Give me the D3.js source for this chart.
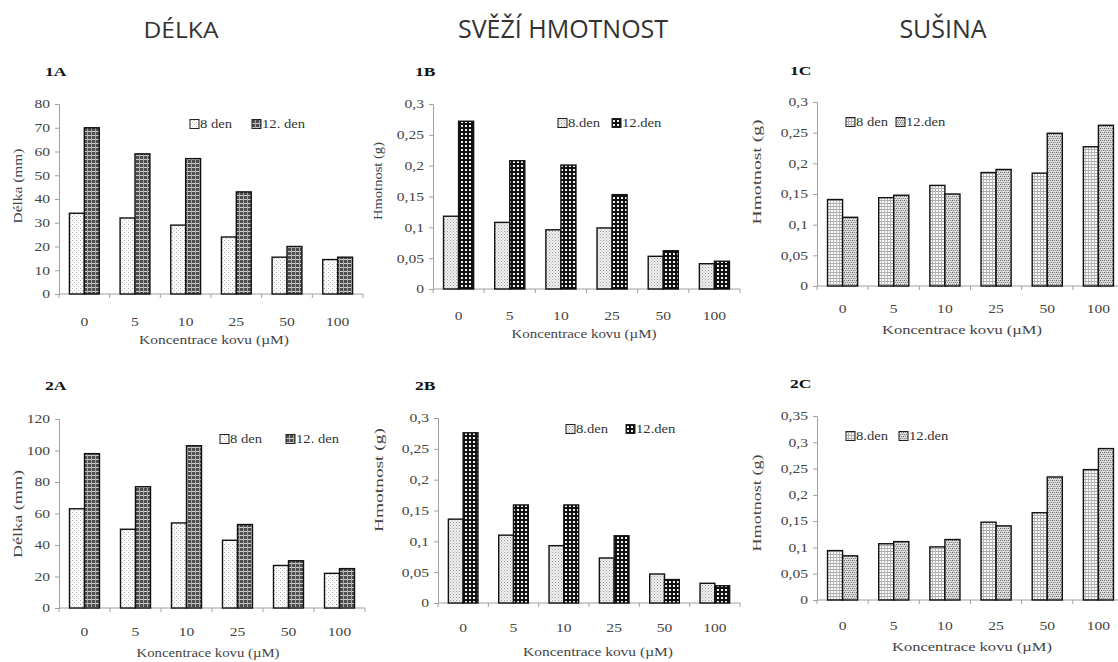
<!DOCTYPE html>
<html>
<head>
<meta charset="utf-8">
<script src="https://cdn.jsdelivr.net/npm/d3@7"></script>
<style>
  body { margin: 0; background: #fff; }
  svg { display: block; }
</style>
</head>
<body>
<div id="paper"></div>
<script>
// data

const categories = ["0", "5", "10", "25", "50", "100"]
const seriesNames = ["8 den", "12. den"]

const delka1_8 = [34, 32, 29, 24, 15.5, 14.5]
const delka1_12 = [70, 59, 57, 43, 20, 15.5]
const svezi1_8 = [0.118, 0.108, 0.096, 0.099, 0.053, 0.041]
const svezi1_12 = [0.272, 0.208, 0.201, 0.153, 0.062, 0.045]
const susina1_8 = [0.141, 0.144, 0.164, 0.185, 0.184, 0.227]
const susina1_12 = [0.112, 0.148, 0.150, 0.190, 0.249, 0.262]

const delka2_8 = [63, 50, 54, 43, 27, 22]
const delka2_12 = [98, 77, 103, 53, 30, 25]
const svezi2_8 = [0.136, 0.110, 0.093, 0.073, 0.047, 0.032]
const svezi2_12 = [0.276, 0.159, 0.159, 0.109, 0.038, 0.028]
const susina2_8 = [0.094, 0.107, 0.101, 0.148, 0.166, 0.248]
const susina2_12 = [0.084, 0.111, 0.115, 0.141, 0.234, 0.288]

const headers = ["DÉLKA", "SVĚŽÍ HMOTNOST", "SUŠINA"]

// svg

const svg = d3.select("#paper")
    .append("svg")
    .attr("id", "canvas")
    .attr("width", 1118)
    .attr("height", 662)

// patterns

const defs = svg.append("defs")

function pattern(id, size, bg, draw) {
    const p = defs.append("pattern")
        .attr("id", id)
        .attr("width", size)
        .attr("height", size)
        .attr("patternUnits", "userSpaceOnUse")
    p.append("rect").attr("width", size).attr("height", size).attr("fill", bg)
    draw(p)
}

function dot(p, x, y, c) {
    p.append("rect").attr("x", x).attr("y", y).attr("width", 1).attr("height", 1).attr("fill", c)
}

// light stipple
pattern("dotsLight", 4, "#fafafa", p => {
    dot(p, 0, 0, "#b0b0b0")
    dot(p, 2, 2, "#c4c4c4")
})
// denser stipple
pattern("dotsMed", 3, "#f2f2f2", p => {
    dot(p, 0, 0, "#999")
    dot(p, 1.5, 1.5, "#aaa")
})
// dark grid
pattern("gridDark", 4, "#4d4d4d", p => {
    p.append("rect").attr("x", 0).attr("y", 3).attr("width", 4).attr("height", 1).attr("fill", "#cfcfcf")
    p.append("rect").attr("x", 3).attr("y", 0).attr("width", 1).attr("height", 4).attr("fill", "#a8a8a8")
})
// black with white holes
pattern("gridBlack", 4, "#111", p => {
    p.append("rect").attr("x", 1).attr("y", 1).attr("width", 2).attr("height", 2).attr("fill", "#f2f2f2")
})
// light grid
pattern("gridLight", 3, "#fbfbfb", p => {
    p.append("rect").attr("x", 0).attr("y", 2).attr("width", 3).attr("height", 1).attr("fill", "#a8a8a8")
    p.append("rect").attr("x", 2).attr("y", 0).attr("width", 1).attr("height", 3).attr("fill", "#b8b8b8")
})
// gray checker
pattern("checkGray", 4, "#d4d4d4", p => {
    dot(p, 0, 0, "#666")
    dot(p, 2, 0, "#888")
    dot(p, 1, 2, "#777")
    dot(p, 3, 2, "#888")
    dot(p, 1, 1, "#f6f6f6")
    dot(p, 3, 3, "#f6f6f6")
})

// stretched text helper

const serif = "Liberation Serif"
const SX = 1.3

function place(sel, x, y, sx) {
    return sel.attr("transform", `translate(${x},${y}) scale(${sx},1)`)
}

// headers

const headerX = [181, 563, 943]
const headerSize = [22, 25, 25]
const headerSX = [1.12, 1.0, 1.0]
svg.selectAll("text.header")
    .data(headers)
    .join("text")
    .attr("class", "header")
    .attr("text-anchor", "middle")
    .attr("font-family", "Open Sans")
    .attr("font-size", (d, i) => headerSize[i] + "px")
    .style("fill", "#333")
    .attr("transform", (d, i) => `translate(${headerX[i]},38) scale(${headerSX[i]},1)`)
    .text(d => d)

// panels layout

const panels = [
    {label: "1A", a: delka1_8, b: delka1_12, max: 80, step: 10, dec: 0, yTitle: "Délka (mm)",
     x0: 59, x1: 363, yTop: 104, yZero: 294, lblY: 326, titleY: 344, titleX: 214, titleLen: 150,
     yTitleX: 18, yTitleY: 186, yTitleLen: 75, legX: 190, legY: 124, legGap: 62,
     fills: ["dotsLight", "gridDark"], legText: ["8 den", "12. den"], lx: 45, ly: 76},
    {label: "1B", a: svezi1_8, b: svezi1_12, max: 0.3, step: 0.05, dec: 2, yTitle: "Hmotnost (g)",
     x0: 433, x1: 740, yTop: 104, yZero: 289, lblY: 320, titleY: 338, titleX: 584, titleLen: 145,
     yTitleX: 378, yTitleY: 181, yTitleLen: 78, legX: 558, legY: 123, legGap: 54,
     fills: ["dotsMed", "gridBlack"], legText: ["8.den", "12.den"], lx: 415, ly: 76},
    {label: "1C", a: susina1_8, b: susina1_12, max: 0.3, step: 0.05, dec: 2, yTitle: "Hmotnost (g)",
     x0: 817, x1: 1124, yTop: 102, yZero: 286, lblY: 313, titleY: 334, titleX: 962, titleLen: 160,
     yTitleX: 757, yTitleY: 172, yTitleLen: 105, legX: 846, legY: 122, legGap: 50,
     fills: ["gridLight", "checkGray"], legText: ["8 den", "12.den"], lx: 790, ly: 75},
    {label: "2A", a: delka2_8, b: delka2_12, max: 120, step: 20, dec: 0, yTitle: "Délka (mm)",
     x0: 59, x1: 365, yTop: 419, yZero: 608, lblY: 636, titleY: 657, titleX: 208, titleLen: 143,
     yTitleX: 18, yTitleY: 514, yTitleLen: 88, legX: 220, legY: 439, legGap: 66,
     fills: ["dotsLight", "gridDark"], legText: ["8 den", "12. den"], lx: 45, ly: 390},
    {label: "2B", a: svezi2_8, b: svezi2_12, max: 0.3, step: 0.05, dec: 2, yTitle: "Hmotnost (g)",
     x0: 438, x1: 740, yTop: 418, yZero: 603, lblY: 632, titleY: 656, titleX: 598, titleLen: 150,
     yTitleX: 379, yTitleY: 480, yTitleLen: 104, legX: 566, legY: 429, legGap: 60,
     fills: ["dotsMed", "gridBlack"], legText: ["8.den", "12.den"], lx: 415, ly: 390},
    {label: "2C", a: susina2_8, b: susina2_12, max: 0.35, step: 0.05, dec: 2, yTitle: "Hmotnost (g)",
     x0: 817, x1: 1124, yTop: 416, yZero: 600, lblY: 630, titleY: 651, titleX: 972, titleLen: 160,
     yTitleX: 757, yTitleY: 503, yTitleLen: 97, legX: 846, legY: 436, legGap: 53,
     fills: ["gridLight", "checkGray"], legText: ["8.den", "12.den"], lx: 790, ly: 388}
]

const comma = (v, dec) => (+v.toFixed(dec)).toString().replace(".", ",")

function drawPanel(p) {
    const g = svg.append("g")

    const x = d3.scaleBand().domain(categories).range([p.x0, p.x1])
    const xIn = d3.scaleBand().domain(seriesNames).range([0, x.bandwidth()]).paddingOuter(0.7)
    const y = d3.scaleLinear().domain([0, p.max]).range([p.yZero, p.yTop])
    const ticks = d3.range(0, p.max + p.step / 2, p.step).map(v => +v.toFixed(3))

    // panel label
    place(g.append("text"), p.lx, p.ly, 1.35)
        .attr("font-family", serif).attr("font-weight", "bold").attr("font-size", "13px")
        .style("fill", "#111")
        .text(p.label)

    // y axis
    const yAxis = d3.axisLeft(y).tickValues(ticks).tickSize(4).tickPadding(5)
        .tickFormat(d => comma(d, p.dec))
    g.append("g").attr("transform", `translate(${p.x0},0)`).call(yAxis)
        .call(a => a.select(".domain").attr("stroke", "#a0a0a0"))
        .call(a => a.selectAll(".tick line").attr("stroke", "#a0a0a0"))
        .call(a => a.selectAll("text")
            .attr("x", -9 / SX)
            .attr("transform", `scale(${SX},1)`)
            .attr("font-family", serif).attr("font-size", "12px").style("fill", "#444"))

    // x axis line and ticks on band edges
    g.append("line")
        .attr("x1", p.x0).attr("x2", p.x1).attr("y1", p.yZero).attr("y2", p.yZero)
        .attr("stroke", "#a0a0a0")
    g.selectAll("line.xt")
        .data(categories.concat(["end"]))
        .join("line")
        .attr("class", "xt")
        .attr("x1", (d, i) => i < categories.length ? x(d) : p.x1)
        .attr("x2", (d, i) => i < categories.length ? x(d) : p.x1)
        .attr("y1", p.yZero).attr("y2", p.yZero + 4)
        .attr("stroke", "#a0a0a0")

    g.selectAll("text.xl")
        .data(categories)
        .join("text")
        .attr("class", "xl")
        .attr("transform", d => `translate(${x(d) + x.bandwidth() / 2},${p.lblY}) scale(${SX},1)`)
        .attr("text-anchor", "middle")
        .attr("font-family", serif).attr("font-size", "12px")
        .style("fill", "#444")
        .text(d => d)

    // bars
    const rows = categories.map((c, i) => [
        {cat: c, s: seriesNames[0], v: p.a[i], f: p.fills[0]},
        {cat: c, s: seriesNames[1], v: p.b[i], f: p.fills[1]}
    ]).flat()

    g.selectAll("rect.bar")
        .data(rows)
        .join("rect")
        .attr("class", "bar")
        .attr("x", d => x(d.cat) + xIn(d.s))
        .attr("width", xIn.bandwidth())
        .attr("y", d => y(d.v))
        .attr("height", d => p.yZero - y(d.v))
        .attr("fill", d => `url(#${d.f})`)
        .attr("stroke", "#111")
        .attr("stroke-width", 1.4)

    // axis titles
    g.append("text")
        .attr("x", p.titleX).attr("y", p.titleY)
        .attr("text-anchor", "middle")
        .attr("textLength", p.titleLen)
        .attr("lengthAdjust", "spacingAndGlyphs")
        .attr("font-family", serif).attr("font-size", "12px")
        .style("fill", "#444")
        .text("Koncentrace kovu (µM)")

    g.append("text")
        .attr("transform", `translate(${p.yTitleX},${p.yTitleY}) rotate(-90)`)
        .attr("text-anchor", "middle")
        .attr("dy", "0.35em")
        .attr("textLength", p.yTitleLen)
        .attr("lengthAdjust", "spacingAndGlyphs")
        .attr("font-family", serif).attr("font-size", "12px")
        .style("fill", "#444")
        .text(p.yTitle)

    // legend
    const leg = g.selectAll("g.leg")
        .data(p.legText)
        .join("g")
        .attr("class", "leg")
        .attr("transform", (d, i) => `translate(${p.legX + i * p.legGap},${p.legY})`)
    leg.append("rect")
        .attr("x", 0).attr("y", -4.5).attr("width", 9).attr("height", 9)
        .attr("fill", (d, i) => `url(#${p.fills[i]})`)
        .attr("stroke", "#222").attr("stroke-width", 1)
    leg.append("text")
        .attr("transform", `translate(10,4) scale(1.22,1)`)
        .attr("font-family", serif).attr("font-size", "12px")
        .style("fill", "#333")
        .text(d => d)
}

panels.forEach(p => drawPanel(p))
</script>
</body>
</html>
